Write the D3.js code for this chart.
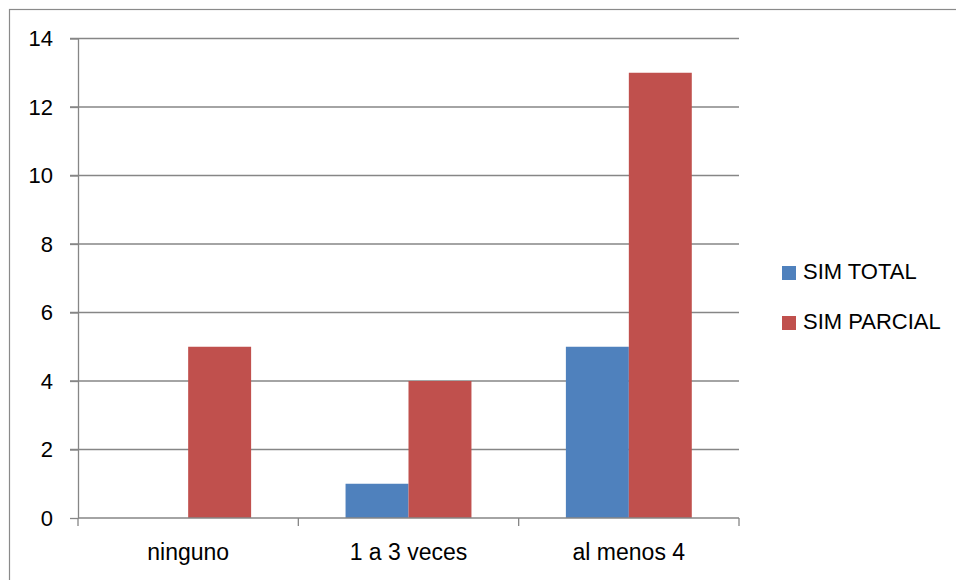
<!DOCTYPE html>
<html>
<head>
<meta charset="utf-8">
<script src="https://cdn.jsdelivr.net/npm/d3@7"></script>
<style>
  html, body { margin: 0; padding: 0; background: #fff; }
  svg { display: block; font-family: "Liberation Sans", Arial, sans-serif; }
</style>
</head>
<body>
<svg id="chart" width="956" height="580"></svg>
<script>
// Categories, series and axis ticks
const categories = ["ninguno", "1 a 3 veces", "al menos 4"];
const seriesNames = ["SIM TOTAL", "SIM PARCIAL"];
const simTotal = [0, 1, 5];
const simParcial = [5, 4, 13];
const yTicks = [0, 2, 4, 6, 8, 10, 12, 14];
const seriesColors = ["#4F81BD", "#C0504D"];

const svg = d3.select("#chart");
const W = 956, H = 580;
const plot = { left: 78, right: 739, top: 38.5, bottom: 518 };
const gridColor = "#868686";
const tickFont = 22;
const catFont = 23;
const legendFont = 22;

// Outer chart frame
svg.append("rect")
  .attr("x", 9.5).attr("y", 9.5)
  .attr("width", W + 20).attr("height", H + 20)
  .attr("fill", "none").attr("stroke", "#8a8a8a").attr("stroke-width", 1.2);

const x = d3.scaleBand().domain(categories).range([plot.left, plot.right]).paddingInner(0).paddingOuter(0);
const y = d3.scaleLinear().domain([0, 14]).range([plot.bottom, plot.top]);
// Two bars per category with an Excel-like 150% gap
const x1 = d3.scaleBand().domain(seriesNames)
  .range([x.bandwidth() * 0.75 / 3.5, x.bandwidth() * 2.75 / 3.5]).padding(0);

// Horizontal gridlines
svg.append("g").selectAll("line")
  .data(yTicks.filter(d => d > 0))
  .join("line")
  .attr("x1", plot.left - 8).attr("x2", plot.right)
  .attr("y1", d => y(d)).attr("y2", d => y(d))
  .attr("stroke", gridColor).attr("stroke-width", 1.3);

// Y axis
const yAxis = svg.append("g")
  .attr("transform", `translate(${plot.left},0)`)
  .call(d3.axisLeft(y).tickValues(yTicks).tickSize(8).tickPadding(17).tickSizeOuter(0));
yAxis.select(".domain").attr("stroke", gridColor).attr("stroke-width", 1.3);
yAxis.selectAll(".tick line").attr("stroke", gridColor).attr("stroke-width", 1.3);
yAxis.selectAll(".tick text")
  .attr("font-size", tickFont).attr("fill", "#000")
  .attr("font-family", "Liberation Sans, Arial, sans-serif");

// Bars
const rows = categories.map((c, i) => ({ cat: c, values: [simTotal[i], simParcial[i]] }));
const groups = svg.append("g").selectAll("g")
  .data(rows).join("g")
  .attr("transform", d => `translate(${x(d.cat)},0)`);
groups.selectAll("rect")
  .data(d => d.values.map((v, j) => ({ name: seriesNames[j], v, j })))
  .join("rect")
  .attr("x", d => x1(d.name))
  .attr("width", x1.bandwidth())
  .attr("y", d => y(d.v))
  .attr("height", d => y(0) - y(d.v))
  .attr("fill", d => seriesColors[d.j]);

// X axis with boundary ticks between categories
const xg = svg.append("g");
xg.append("line")
  .attr("x1", plot.left).attr("x2", plot.right)
  .attr("y1", plot.bottom).attr("y2", plot.bottom)
  .attr("stroke", gridColor).attr("stroke-width", 1.3);
const boundaries = categories.map(c => x(c)).concat([x(categories[categories.length - 1]) + x.bandwidth()]);
xg.selectAll("line.tick").data(boundaries).join("line")
  .attr("class", "tick")
  .attr("x1", d => d).attr("x2", d => d)
  .attr("y1", plot.bottom).attr("y2", plot.bottom + 8)
  .attr("stroke", gridColor).attr("stroke-width", 1.3);
xg.selectAll("text").data(categories).join("text")
  .attr("x", d => x(d) + x.bandwidth() / 2)
  .attr("y", 560)
  .attr("text-anchor", "middle")
  .attr("font-size", catFont)
  .attr("fill", "#000")
  .text(d => d);

// Legend
const legend = svg.append("g");
const legendY = [279, 329];
seriesNames.forEach((name, i) => {
  legend.append("rect")
    .attr("x", 782).attr("y", legendY[i] - 13)
    .attr("width", 14).attr("height", 14)
    .attr("fill", seriesColors[i]);
  legend.append("text")
    .attr("x", 803).attr("y", legendY[i])
    .attr("font-size", legendFont).attr("fill", "#000")
    .text(name);
});
</script>
</body>
</html>
